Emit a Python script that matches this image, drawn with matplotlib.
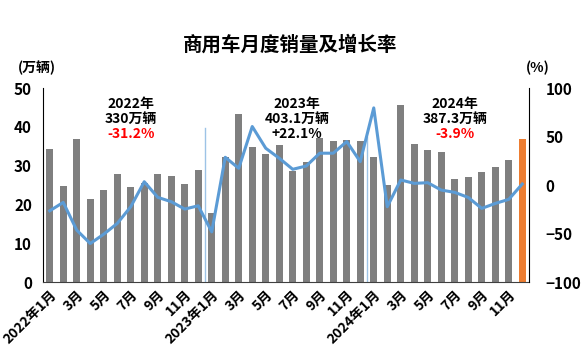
import matplotlib
matplotlib.use("Agg")
import matplotlib.pyplot as plt
import numpy as np

plt.rcParams['font.family'] = ['Noto Sans CJK SC', 'DejaVu Sans']

sales = [34.3, 24.7, 36.9, 21.4, 23.7, 27.8, 24.5, 25.6, 27.8, 27.2, 25.3, 28.8,
         17.7, 32.2, 43.3, 34.8, 33.0, 35.3, 28.7, 31.0, 37.0, 36.4, 36.6, 36.4,
         32.3, 25.1, 45.7, 35.6, 34.0, 33.5, 26.5, 27.0, 28.3, 29.6, 31.5, 36.9]
growth = [-26.6, -17.9, -46.5, -60.3, -50.7, -39.6, -22.4, 3.4, -12.7, -17.2, -24.8, -21.4,
          -48.3, 28.6, 17.2, 60.3, 37.9, 27.6, 16.2, 19.6, 32.8, 32.8, 44.8, 24.1,
          79.5, -22.4, 5.2, 1.7, 2.4, -5.2, -7.6, -12.8, -24.1, -19.0, -14.8, 1.0]
tick_labels = ['2022年1月', '3月', '5月', '7月', '9月', '11月',
               '2023年1月', '3月', '5月', '7月', '9月', '11月',
               '2024年1月', '3月', '5月', '7月', '9月', '11月']
annot_years = ['2022年', '2023年', '2024年']
annot_totals = ['330万辆', '403.1万辆', '387.3万辆']
annot_rates = ['-31.2%', '+22.1%', '-3.9%']

bar_gray = '#7F7F7F'
line_blue = '#5B9BD5'
orange = '#ED7D31'

fig = plt.figure(figsize=(5.81, 3.57), dpi=100)
ax = fig.add_axes([0.074, 0.21, 0.8365, 0.5435])
x = np.arange(len(sales))
colors = [bar_gray] * (len(sales) - 1) + [orange]
ax.bar(x, sales, width=0.5, color=colors, zorder=2)
ax.set_xlim(-0.5, len(sales) - 0.5)
ax.set_ylim(0, 50)
ax.set_yticks(np.arange(0, 51, 10))
ax.tick_params(axis='y', length=0, labelsize=11, pad=8)
for lab in ax.get_yticklabels():
    lab.set_fontweight('bold')
ax.set_xticks(x[::2])
ax.set_xticklabels(tick_labels, rotation=45, ha='right', rotation_mode='anchor',
                   fontsize=10, fontweight='bold')
ax.tick_params(axis='x', length=0, pad=4)
ax.spines['top'].set_visible(False)
ax.spines['left'].set_color('black')
ax.spines['bottom'].set_color('#404040')
ax.spines['right'].set_visible(False)

# year separators
ax.axvline(11.5, ymin=0, ymax=0.795, color='#9DC3E6', lw=1.0, zorder=1)
ax.axvline(23.5, ymin=0, ymax=0.75, color='#9DC3E6', lw=1.0, zorder=1)

ax2 = ax.twinx()
ax2.plot(x, growth, color=line_blue, lw=2.2, zorder=3)
ax2.set_ylim(-100, 100)
ax2.set_yticks([-100, -50, 0, 50, 100])
ax2.tick_params(axis='y', length=0, labelsize=11, pad=12)
for lab in ax2.get_yticklabels():
    lab.set_fontweight('bold')
for s in ['top', 'left', 'bottom']:
    ax2.spines[s].set_visible(False)
ax2.spines['right'].set_color('black')

fig.text(0.5, 0.875, '商用车月度销量及增长率', ha='center', va='center',
         fontsize=14, fontweight='bold')
fig.text(0.03, 0.81, '(万辆)', ha='left', va='center', fontsize=10, fontweight='bold')
fig.text(0.905, 0.81, '(%)', ha='left', va='center', fontsize=10, fontweight='bold')

centers = [6.0, 18.3, 30.0]
for cx, yr, tot, rt in zip(centers, annot_years, annot_totals, annot_rates):
    col = 'red' if rt.startswith('-') else 'black'
    ax.text(cx, 45.8, yr, ha='center', va='center', fontsize=10, fontweight='bold')
    ax.text(cx, 42.0, tot, ha='center', va='center', fontsize=10, fontweight='bold')
    ax.text(cx, 38.2, rt, ha='center', va='center', fontsize=10, fontweight='bold', color=col)

fig.savefig('out.png', dpi=100)
